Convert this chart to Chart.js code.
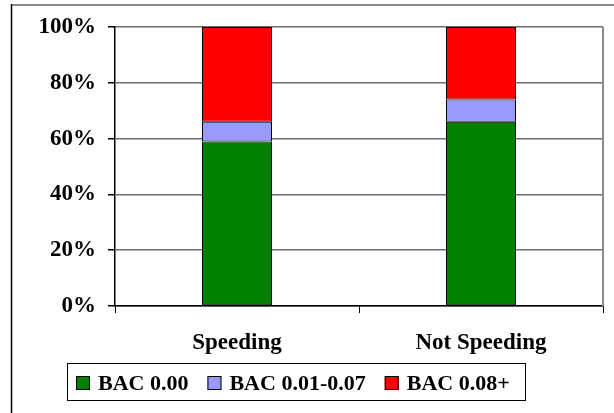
<!DOCTYPE html>
<html>
<head>
<meta charset="utf-8">
<script src="https://cdn.jsdelivr.net/npm/chart.js@4/dist/chart.umd.min.js"></script>
<style>
  html, body { margin: 0; padding: 0; background: #fff; }
  #wrap { width: 614px; height: 413px; position: relative; }
</style>
</head>
<body>
<div id="wrap"><canvas id="c" width="614" height="413"></canvas></div>
<script>
// Share of drivers by blood alcohol concentration, speeding vs. not speeding
const categories = ['Speeding', 'Not Speeding'];
const seriesNames = ['BAC 0.00', 'BAC 0.01-0.07', 'BAC 0.08+'];
const bac000 = [59, 66];
const bac001to007 = [7, 8];
const bac008plus = [34, 26];
const yTicks = [0, 20, 40, 60, 80, 100];

const colors = ['#008000', '#9999FF', '#FF0000'];
const FAMILY = "'Liberation Serif', 'Times New Roman', serif";
const AXIS_FONT = { family: FAMILY, size: 23, weight: 'bold' };
const LEGEND_FONT = { family: FAMILY, size: 22, weight: 'bold' };

// Outer frame, right plot edge and boxed legend
const decorations = {
  id: 'decorations',
  beforeDraw(chart) {
    const ctx = chart.ctx;
    ctx.save();
    ctx.fillStyle = '#fff';
    ctx.fillRect(0, 0, chart.width, chart.height);
    ctx.strokeStyle = '#8a8a8a';
    ctx.lineWidth = 2;
    ctx.beginPath();
    ctx.moveTo(11, 5);
    ctx.lineTo(chart.width, 5);
    ctx.stroke();
    ctx.strokeStyle = '#000';
    ctx.lineWidth = 1.5;
    ctx.beginPath();
    ctx.moveTo(11.5, 4);
    ctx.lineTo(11.5, chart.height);
    ctx.stroke();
    ctx.restore();
  },
  afterDraw(chart) {
    const ctx = chart.ctx;
    const a = chart.chartArea;
    ctx.save();
    // right edge of plot
    ctx.strokeStyle = '#8a8a8a';
    ctx.lineWidth = 2;
    ctx.beginPath();
    ctx.moveTo(a.right, a.top);
    ctx.lineTo(a.right, a.bottom);
    ctx.stroke();

    // legend
    ctx.font = `${LEGEND_FONT.weight} ${LEGEND_FONT.size}px ${LEGEND_FONT.family}`;
    ctx.textBaseline = 'middle';
    const box = 14, gap = 8, spacing = 19;
    const items = chart.data.datasets.map(d => ({
      label: d.label, color: d.backgroundColor, w: ctx.measureText(d.label).width
    }));
    let total = 0;
    items.forEach((it, i) => { total += box + gap + it.w + (i < items.length - 1 ? spacing : 0); });
    const left = 76, cy = 383;
    let x = left;
    ctx.strokeStyle = '#000';
    ctx.lineWidth = 1;
    ctx.strokeRect(67.5, 363.5, 458, 37);
    items.forEach(it => {
      ctx.fillStyle = it.color;
      ctx.fillRect(x, cy - 7, box, box);
      ctx.strokeStyle = '#000';
      ctx.strokeRect(x + 0.5, cy - 6.5, box - 1, box - 1);
      ctx.fillStyle = '#000';
      ctx.textAlign = 'left';
      ctx.fillText(it.label, x + box + gap, cy + 1);
      x += box + gap + it.w + spacing;
    });
    ctx.restore();
  }
};

const datasets = [bac000, bac001to007, bac008plus].map((vals, i) => ({
  label: seriesNames[i],
  data: vals,
  backgroundColor: colors[i],
  borderColor: '#000',
  borderWidth: 1,
  borderSkipped: false,
  barPercentage: 0.287,
  categoryPercentage: 1.0
}));

new Chart(document.getElementById('c'), {
  type: 'bar',
  data: { labels: categories, datasets },
  options: {
    responsive: false,
    animation: false,
    devicePixelRatio: 1,
    layout: { padding: { left: 0, right: 11, top: 27, bottom: 0 } },
    plugins: { legend: { display: false }, tooltip: { enabled: false } },
    scales: {
      x: {
        stacked: true,
        offset: true,
        grid: { offset: true, drawOnChartArea: false, drawTicks: true, tickLength: 7, tickColor: '#000', lineWidth: 1 },
        border: { display: true, color: '#000', width: 1.5 },
        ticks: { color: '#000', font: AXIS_FONT, padding: 16, maxRotation: 0 },
        afterFit(scale) { scale.height = 107; }
      },
      y: {
        stacked: true,
        min: 0,
        max: 100,
        afterBuildTicks(scale) { scale.ticks = yTicks.map(v => ({ value: v })); },
        grid: { color: '#6e6e6e', lineWidth: 1.5, drawTicks: true, tickLength: 7, tickColor: '#000' },
        border: { display: true, color: '#000', width: 1.5 },
        ticks: { color: '#000', font: AXIS_FONT, padding: 12, callback: v => v + '%' },
        afterFit(scale) { scale.width = 115; }
      }
    }
  },
  plugins: [decorations]
});
</script>
</body>
</html>
